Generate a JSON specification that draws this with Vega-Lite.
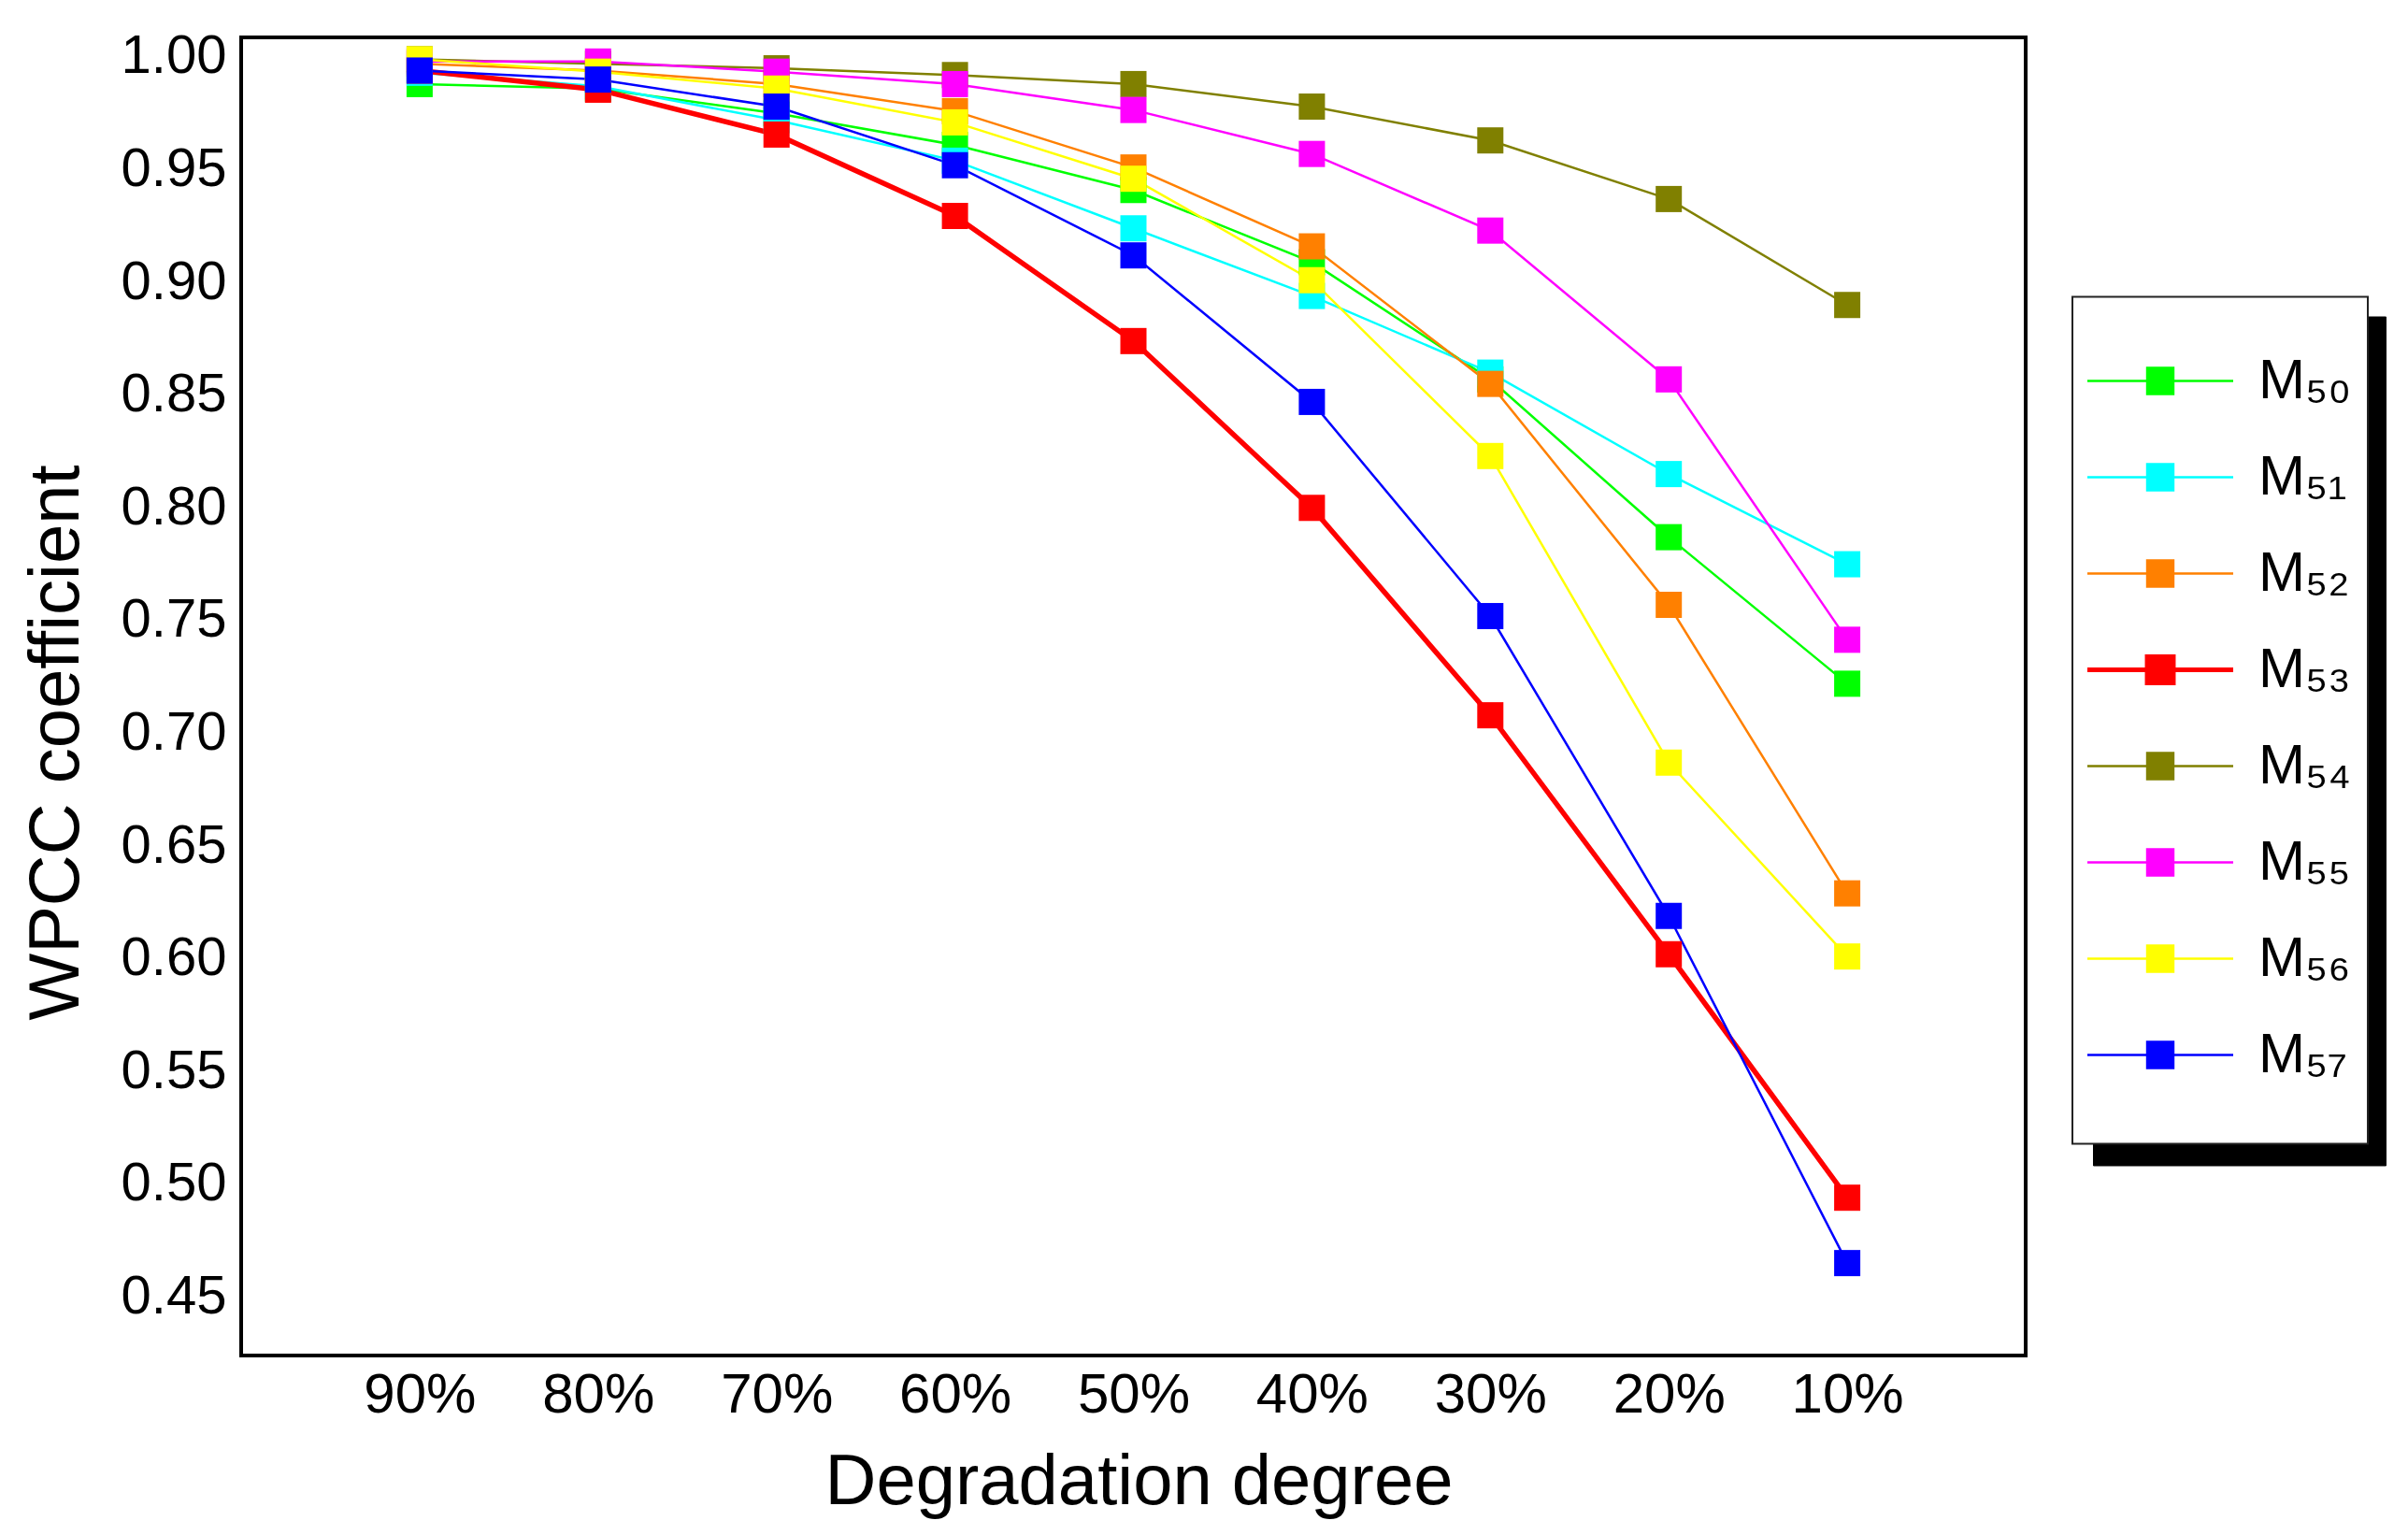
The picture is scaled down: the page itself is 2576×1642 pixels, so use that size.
{
  "$schema": "https://vega.github.io/schema/vega-lite/v6.json",
  "autosize": {"type": "none"},
  "padding": {"left": 258, "top": 40, "right": 409, "bottom": 192},
  "width": 1909,
  "height": 1410,
  "background": "white",
  "config": {
    "font": "Liberation Sans",
    "view": {"stroke": "black", "strokeWidth": 4},
    "axis": {"labelColor": "black", "titleColor": "black", "domain": false, "ticks": false, "tickSize": 0, "grid": false, "labelFont": "Liberation Sans", "titleFont": "Liberation Sans", "titleFontWeight": "normal"}
  },
  "data": {"values": [
    {"s": "M₅₀", "deg": "90%", "v": 0.988}, {"s": "M₅₀", "deg": "80%", "v": 0.986}, {"s": "M₅₀", "deg": "70%", "v": 0.975}, {"s": "M₅₀", "deg": "60%", "v": 0.961}, {"s": "M₅₀", "deg": "50%", "v": 0.941}, {"s": "M₅₀", "deg": "40%", "v": 0.909}, {"s": "M₅₀", "deg": "30%", "v": 0.857}, {"s": "M₅₀", "deg": "20%", "v": 0.787}, {"s": "M₅₀", "deg": "10%", "v": 0.722},
    {"s": "M₅₁", "deg": "90%", "v": 0.993}, {"s": "M₅₁", "deg": "80%", "v": 0.987}, {"s": "M₅₁", "deg": "70%", "v": 0.972}, {"s": "M₅₁", "deg": "60%", "v": 0.954}, {"s": "M₅₁", "deg": "50%", "v": 0.924}, {"s": "M₅₁", "deg": "40%", "v": 0.894}, {"s": "M₅₁", "deg": "30%", "v": 0.860}, {"s": "M₅₁", "deg": "20%", "v": 0.815}, {"s": "M₅₁", "deg": "10%", "v": 0.775},
    {"s": "M₅₂", "deg": "90%", "v": 0.997}, {"s": "M₅₂", "deg": "80%", "v": 0.994}, {"s": "M₅₂", "deg": "70%", "v": 0.988}, {"s": "M₅₂", "deg": "60%", "v": 0.976}, {"s": "M₅₂", "deg": "50%", "v": 0.951}, {"s": "M₅₂", "deg": "40%", "v": 0.916}, {"s": "M₅₂", "deg": "30%", "v": 0.855}, {"s": "M₅₂", "deg": "20%", "v": 0.757}, {"s": "M₅₂", "deg": "10%", "v": 0.629},
    {"s": "M₅₃", "deg": "90%", "v": 0.994}, {"s": "M₅₃", "deg": "80%", "v": 0.9855}, {"s": "M₅₃", "deg": "70%", "v": 0.9656}, {"s": "M₅₃", "deg": "60%", "v": 0.9295}, {"s": "M₅₃", "deg": "50%", "v": 0.874}, {"s": "M₅₃", "deg": "40%", "v": 0.800}, {"s": "M₅₃", "deg": "30%", "v": 0.708}, {"s": "M₅₃", "deg": "20%", "v": 0.602}, {"s": "M₅₃", "deg": "10%", "v": 0.494},
    {"s": "M₅₄", "deg": "90%", "v": 0.999}, {"s": "M₅₄", "deg": "80%", "v": 0.997}, {"s": "M₅₄", "deg": "70%", "v": 0.995}, {"s": "M₅₄", "deg": "60%", "v": 0.992}, {"s": "M₅₄", "deg": "50%", "v": 0.988}, {"s": "M₅₄", "deg": "40%", "v": 0.978}, {"s": "M₅₄", "deg": "30%", "v": 0.963}, {"s": "M₅₄", "deg": "20%", "v": 0.937}, {"s": "M₅₄", "deg": "10%", "v": 0.890},
    {"s": "M₅₅", "deg": "90%", "v": 0.998}, {"s": "M₅₅", "deg": "80%", "v": 0.998}, {"s": "M₅₅", "deg": "70%", "v": 0.9935}, {"s": "M₅₅", "deg": "60%", "v": 0.988}, {"s": "M₅₅", "deg": "50%", "v": 0.9765}, {"s": "M₅₅", "deg": "40%", "v": 0.957}, {"s": "M₅₅", "deg": "30%", "v": 0.923}, {"s": "M₅₅", "deg": "20%", "v": 0.857}, {"s": "M₅₅", "deg": "10%", "v": 0.7415},
    {"s": "M₅₆", "deg": "90%", "v": 0.999}, {"s": "M₅₆", "deg": "80%", "v": 0.9935}, {"s": "M₅₆", "deg": "70%", "v": 0.986}, {"s": "M₅₆", "deg": "60%", "v": 0.971}, {"s": "M₅₆", "deg": "50%", "v": 0.946}, {"s": "M₅₆", "deg": "40%", "v": 0.901}, {"s": "M₅₆", "deg": "30%", "v": 0.823}, {"s": "M₅₆", "deg": "20%", "v": 0.687}, {"s": "M₅₆", "deg": "10%", "v": 0.601},
    {"s": "M₅₇", "deg": "90%", "v": 0.994}, {"s": "M₅₇", "deg": "80%", "v": 0.990}, {"s": "M₅₇", "deg": "70%", "v": 0.978}, {"s": "M₅₇", "deg": "60%", "v": 0.952}, {"s": "M₅₇", "deg": "50%", "v": 0.912}, {"s": "M₅₇", "deg": "40%", "v": 0.847}, {"s": "M₅₇", "deg": "30%", "v": 0.752}, {"s": "M₅₇", "deg": "20%", "v": 0.619}, {"s": "M₅₇", "deg": "10%", "v": 0.465}
  ]},
  "encoding": {
    "x": {
      "field": "deg", "type": "ordinal",
      "sort": ["90%", "80%", "70%", "60%", "50%", "40%", "30%", "20%", "10%"],
      "scale": {"type": "point", "padding": 1},
      "axis": {"title": "Degradation degree", "labelAngle": 0, "labelFontSize": 60, "labelPadding": 13, "titleFontSize": 76, "titleX": 960, "titleY": 158, "titleBaseline": "alphabetic"}
    },
    "y": {
      "field": "v", "type": "quantitative",
      "scale": {"domain": [0.424, 1.0087], "nice": false, "zero": false},
      "axis": {"title": "WPCC coefficient", "values": [0.45, 0.5, 0.55, 0.6, 0.65, 0.7, 0.75, 0.8, 0.85, 0.9, 0.95, 1.0], "format": ".2f", "labelFontSize": 58, "labelPadding": 16, "titleFontSize": 76, "titleX": -175, "titleY": 754, "titleBaseline": "alphabetic"}
    }
  },
  "layer": [
    {
      "mark": {"type": "point", "opacity": 0},
      "encoding": {
        "color": {
          "field": "s", "type": "nominal",
          "scale": {"domain": ["M₅₀", "M₅₁", "M₅₂", "M₅₃", "M₅₄", "M₅₅", "M₅₆", "M₅₇"], "range": ["black", "black", "black", "black", "black", "black", "black", "black"]},
          "legend": {
            "title": " ", "titleOrient": "bottom", "titleFontSize": 30, "titlePadding": 27,
            "orient": "none", "legendX": 1981, "legendY": 298.5, "zindex": 0,
            "fillColor": "black", "strokeColor": "black",
            "padding": 17.5, "rowPadding": 0,
            "symbolType": "M-1.095,0L1.095,0M-0.196,-0.196L0.196,-0.196L0.196,0.196L-0.196,0.196ZM2.79,0L2.79,0",
            "symbolSize": 20306, "symbolOffset": 4,
            "labelFontSize": 60, "labelFont": "Liberation Sans", "labelColor": "black", "labelOffset": 32.5,
            "labelExpr": "''",
            "encode": {
              "legend": {"update": {"strokeWidth": {"value": 2}}},
              "symbols": {"update": {"strokeWidth": {"signal": "(datum.value === 'M₅₃' ? 5 : 2.5)"}, "opacity": {"value": 0}}}
            }
          }
        }
      }
    },
    {
      "encoding": {
        "color": {
          "field": "s", "type": "nominal",
          "scale": {"domain": ["M₅₀", "M₅₁", "M₅₂", "M₅₃", "M₅₄", "M₅₅", "M₅₆", "M₅₇"], "range": ["#00ff00", "#00ffff", "#ff8000", "#ff0000", "#808000", "#ff00ff", "#ffff00", "#0000ff"]},
          "legend": {
            "title": " ", "titleOrient": "bottom", "titleFontSize": 30, "titlePadding": 17,
            "orient": "none", "legendX": 1959, "legendY": 277.5, "zindex": 1,
            "fillColor": "white", "strokeColor": "#222222",
            "padding": 17.5, "rowPadding": 0,
            "symbolType": "M-1.095,0L1.095,0M-0.196,-0.196L0.196,-0.196L0.196,0.196L-0.196,0.196Z",
            "symbolSize": 20306, "symbolOffset": 4,
            "labelFontSize": 60, "labelFont": "Liberation Sans", "labelColor": "black", "labelOffset": 32.5,
            "encode": {
              "legend": {"update": {"strokeWidth": {"value": 2}}},
              "symbols": {
                "update": {
                  "fill": {"signal": "datum.value === 'M₅₀' ? '#00ff00' : datum.value === 'M₅₁' ? '#00ffff' : datum.value === 'M₅₂' ? '#ff8000' : datum.value === 'M₅₃' ? '#ff0000' : datum.value === 'M₅₄' ? '#808000' : datum.value === 'M₅₅' ? '#ff00ff' : datum.value === 'M₅₆' ? '#ffff00' : '#0000ff'"},
                  "stroke": {"signal": "datum.value === 'M₅₀' ? '#00ff00' : datum.value === 'M₅₁' ? '#00ffff' : datum.value === 'M₅₂' ? '#ff8000' : datum.value === 'M₅₃' ? '#ff0000' : datum.value === 'M₅₄' ? '#808000' : datum.value === 'M₅₅' ? '#ff00ff' : datum.value === 'M₅₆' ? '#ffff00' : '#0000ff'"},
                  "strokeWidth": {"signal": "(datum.value === 'M₅₃' ? 5 : 2.5)"},
                  "opacity": {"value": 1}
                }
              }
            }
          }
        }
      },
      "layer": [
        {
          "mark": {"type": "line"},
          "encoding": {
            "strokeWidth": {"condition": {"test": "datum.s === 'M₅₃'", "value": 5.5}, "value": 2.5}
          }
        },
        {
          "mark": {"type": "point", "shape": "square", "filled": true, "size": 784, "opacity": 1}
        }
      ]
    }
  ],
  "resolve": {"scale": {"color": "independent"}, "legend": {"color": "independent"}}
}
